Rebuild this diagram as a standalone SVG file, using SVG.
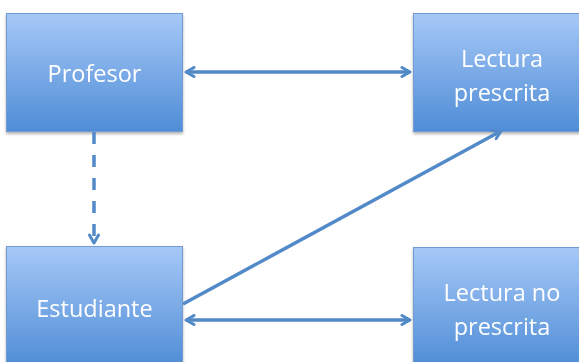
<svg xmlns="http://www.w3.org/2000/svg" width="579" height="362" viewBox="0 0 579 362">
<style>
.box{fill:url(#g);stroke:#6f9bd3;stroke-width:1}
.t{fill:#fff;font-family:"Open Sans","Liberation Sans",sans-serif;font-size:23.5px;text-anchor:middle}
.c{stroke:#5289c8;stroke-width:3.5;fill:none}
</style>
<defs>
<linearGradient id="g" x1="0" y1="0" x2="0" y2="1">
<stop offset="0" stop-color="#a6c8f7"/>
<stop offset="1" stop-color="#4f8dd6"/>
</linearGradient>
<filter id="sh" x="-10%" y="-10%" width="120%" height="130%">
<feDropShadow dx="0" dy="2" stdDeviation="1.5" flood-color="#000" flood-opacity="0.3"/>
</filter>
<marker id="a" viewBox="0 0 12 12" refX="10" refY="6" markerWidth="12" markerHeight="12" markerUnits="userSpaceOnUse" orient="auto-start-reverse">
<path d="M2,1.5 L10,6 L2,10.5" fill="none" stroke="#5289c8" stroke-width="3" stroke-linecap="round" stroke-linejoin="round"/>
</marker>
</defs>
<g id="profesor" filter="url(#sh)">
<rect class="box" x="6.5" y="13.5" width="176" height="118"/>
<text class="t" x="94.5" y="82">Profesor</text>
</g>
<g id="lectura-prescrita" filter="url(#sh)">
<rect class="box" x="413.5" y="13.5" width="178" height="118"/>
<text class="t" x="502" y="67">Lectura</text>
<text class="t" x="502" y="101">prescrita</text>
</g>
<g id="estudiante" filter="url(#sh)">
<rect class="box" x="6.5" y="246.5" width="176" height="120"/>
<text class="t" x="94.5" y="317">Estudiante</text>
</g>
<g id="lectura-no-prescrita" filter="url(#sh)">
<rect class="box" x="413.5" y="247.5" width="178" height="120"/>
<text class="t" x="502" y="301">Lectura no</text>
<text class="t" x="502" y="335">prescrita</text>
</g>
<g id="connectors">
<line class="c" x1="186" y1="72" x2="410" y2="72" marker-start="url(#a)" marker-end="url(#a)"/>
<line class="c" x1="186" y1="320" x2="410" y2="320" marker-start="url(#a)" marker-end="url(#a)"/>
<line class="c" x1="183" y1="304" x2="501" y2="131" marker-end="url(#a)"/>
<line class="c" x1="94" y1="132" x2="94" y2="243" stroke-dasharray="12,11" marker-end="url(#a)"/>
</g>
</svg>
